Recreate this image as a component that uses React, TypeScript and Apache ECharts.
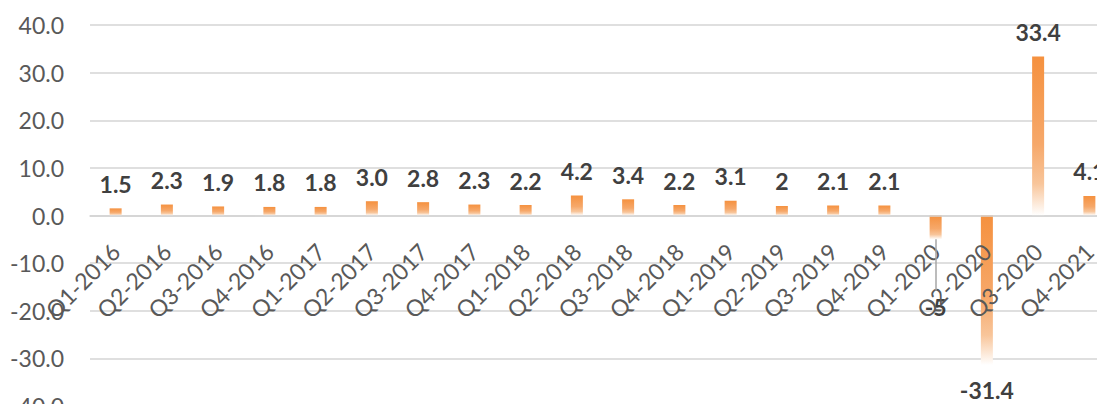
import React, { useEffect, useRef } from "react";
import * as echarts from "echarts";

const categories = [
  "Q1-2016", "Q2-2016", "Q3-2016", "Q4-2016",
  "Q1-2017", "Q2-2017", "Q3-2017", "Q4-2017",
  "Q1-2018", "Q2-2018", "Q3-2018", "Q4-2018",
  "Q1-2019", "Q2-2019", "Q3-2019", "Q4-2019",
  "Q1-2020", "Q2-2020", "Q3-2020", "Q4-2021",
];
const values = [1.5, 2.3, 1.9, 1.8, 1.8, 3.0, 2.8, 2.3, 2.2, 4.2, 3.4, 2.2, 3.1, 2, 2.1, 2.1, -5, -31.4, 33.4, 4.1];
const labelTexts = ["1.5", "2.3", "1.9", "1.8", "1.8", "3.0", "2.8", "2.3", "2.2", "4.2", "3.4", "2.2", "3.1", "2", "2.1", "2.1", "-5", "-31.4", "33.4", "4.1"];
const leaderCategory = "Q1-2020";
const leaderFrom = -5;
const leaderTo = -15.8;

const FONT = "Lato, 'Open Sans', sans-serif";

export default function App() {
  const ref = useRef<HTMLDivElement>(null);
  useEffect(() => {
    if (!ref.current) return;
    const chart = echarts.init(ref.current, null, { renderer: "svg" });
    const grad = new echarts.graphic.LinearGradient(0, 0, 0, 1, [
      { offset: 0, color: "#F5913F" },
      { offset: 0.55, color: "#F6A86A" },
      { offset: 0.8, color: "#F8C59A" },
      { offset: 1, color: "#FFFFFF" },
    ]);
    chart.setOption({
      animation: false,
      textStyle: { fontFamily: FONT },
      grid: { left: 90, top: 25, width: 1025, height: 381, containLabel: false, outerBoundsMode: "none" },
      xAxis: {
        type: "category",
        data: categories,
        position: "bottom",
        offset: -190.5,
        axisTick: { show: false },
        axisLine: { show: true, onZero: false, lineStyle: { color: "#d4d4d4", width: 1.5 } },
        axisLabel: {
          rotate: 45,
          interval: 0,
          margin: 32,
          fontSize: 23,
          color: "#595959",
          fontFamily: FONT,
        },
        z: 3,
      },
      yAxis: {
        type: "value",
        min: -40,
        max: 40,
        interval: 10,
        axisLine: { show: false },
        axisTick: { show: false },
        splitLine: { lineStyle: { color: "#d4d4d4", width: 1.5 } },
        axisLabel: {
          margin: 26,
          fontSize: 23,
          color: "#595959",
          fontFamily: FONT,
          formatter: (v: number) => v.toFixed(1),
        },
      },
      series: [
        {
          type: "bar",
          barWidth: 12,
          itemStyle: { color: grad },
          data: values.map((v, i) => ({
            value: v,
            label: {
              show: true,
              position: v < 0 ? "bottom" : "top",
              distance: categories[i] === leaderCategory ? 56 : 13,
              formatter: () => labelTexts[i],
              fontSize: 23,
              fontWeight: "bold",
              color: "#404040",
              fontFamily: FONT,
            },
          })),
          markLine: {
            silent: true,
            symbol: "none",
            label: { show: false },
            lineStyle: { color: "#a6a6a6", width: 1.5, type: "solid" },
            data: [[{ coord: [leaderCategory, leaderFrom] }, { coord: [leaderCategory, leaderTo] }]],
          },
        },
      ],
    });
    return () => chart.dispose();
  }, []);
  return <div ref={ref} style={{ width: 1105, height: 412, margin: -8 }} />;
}
